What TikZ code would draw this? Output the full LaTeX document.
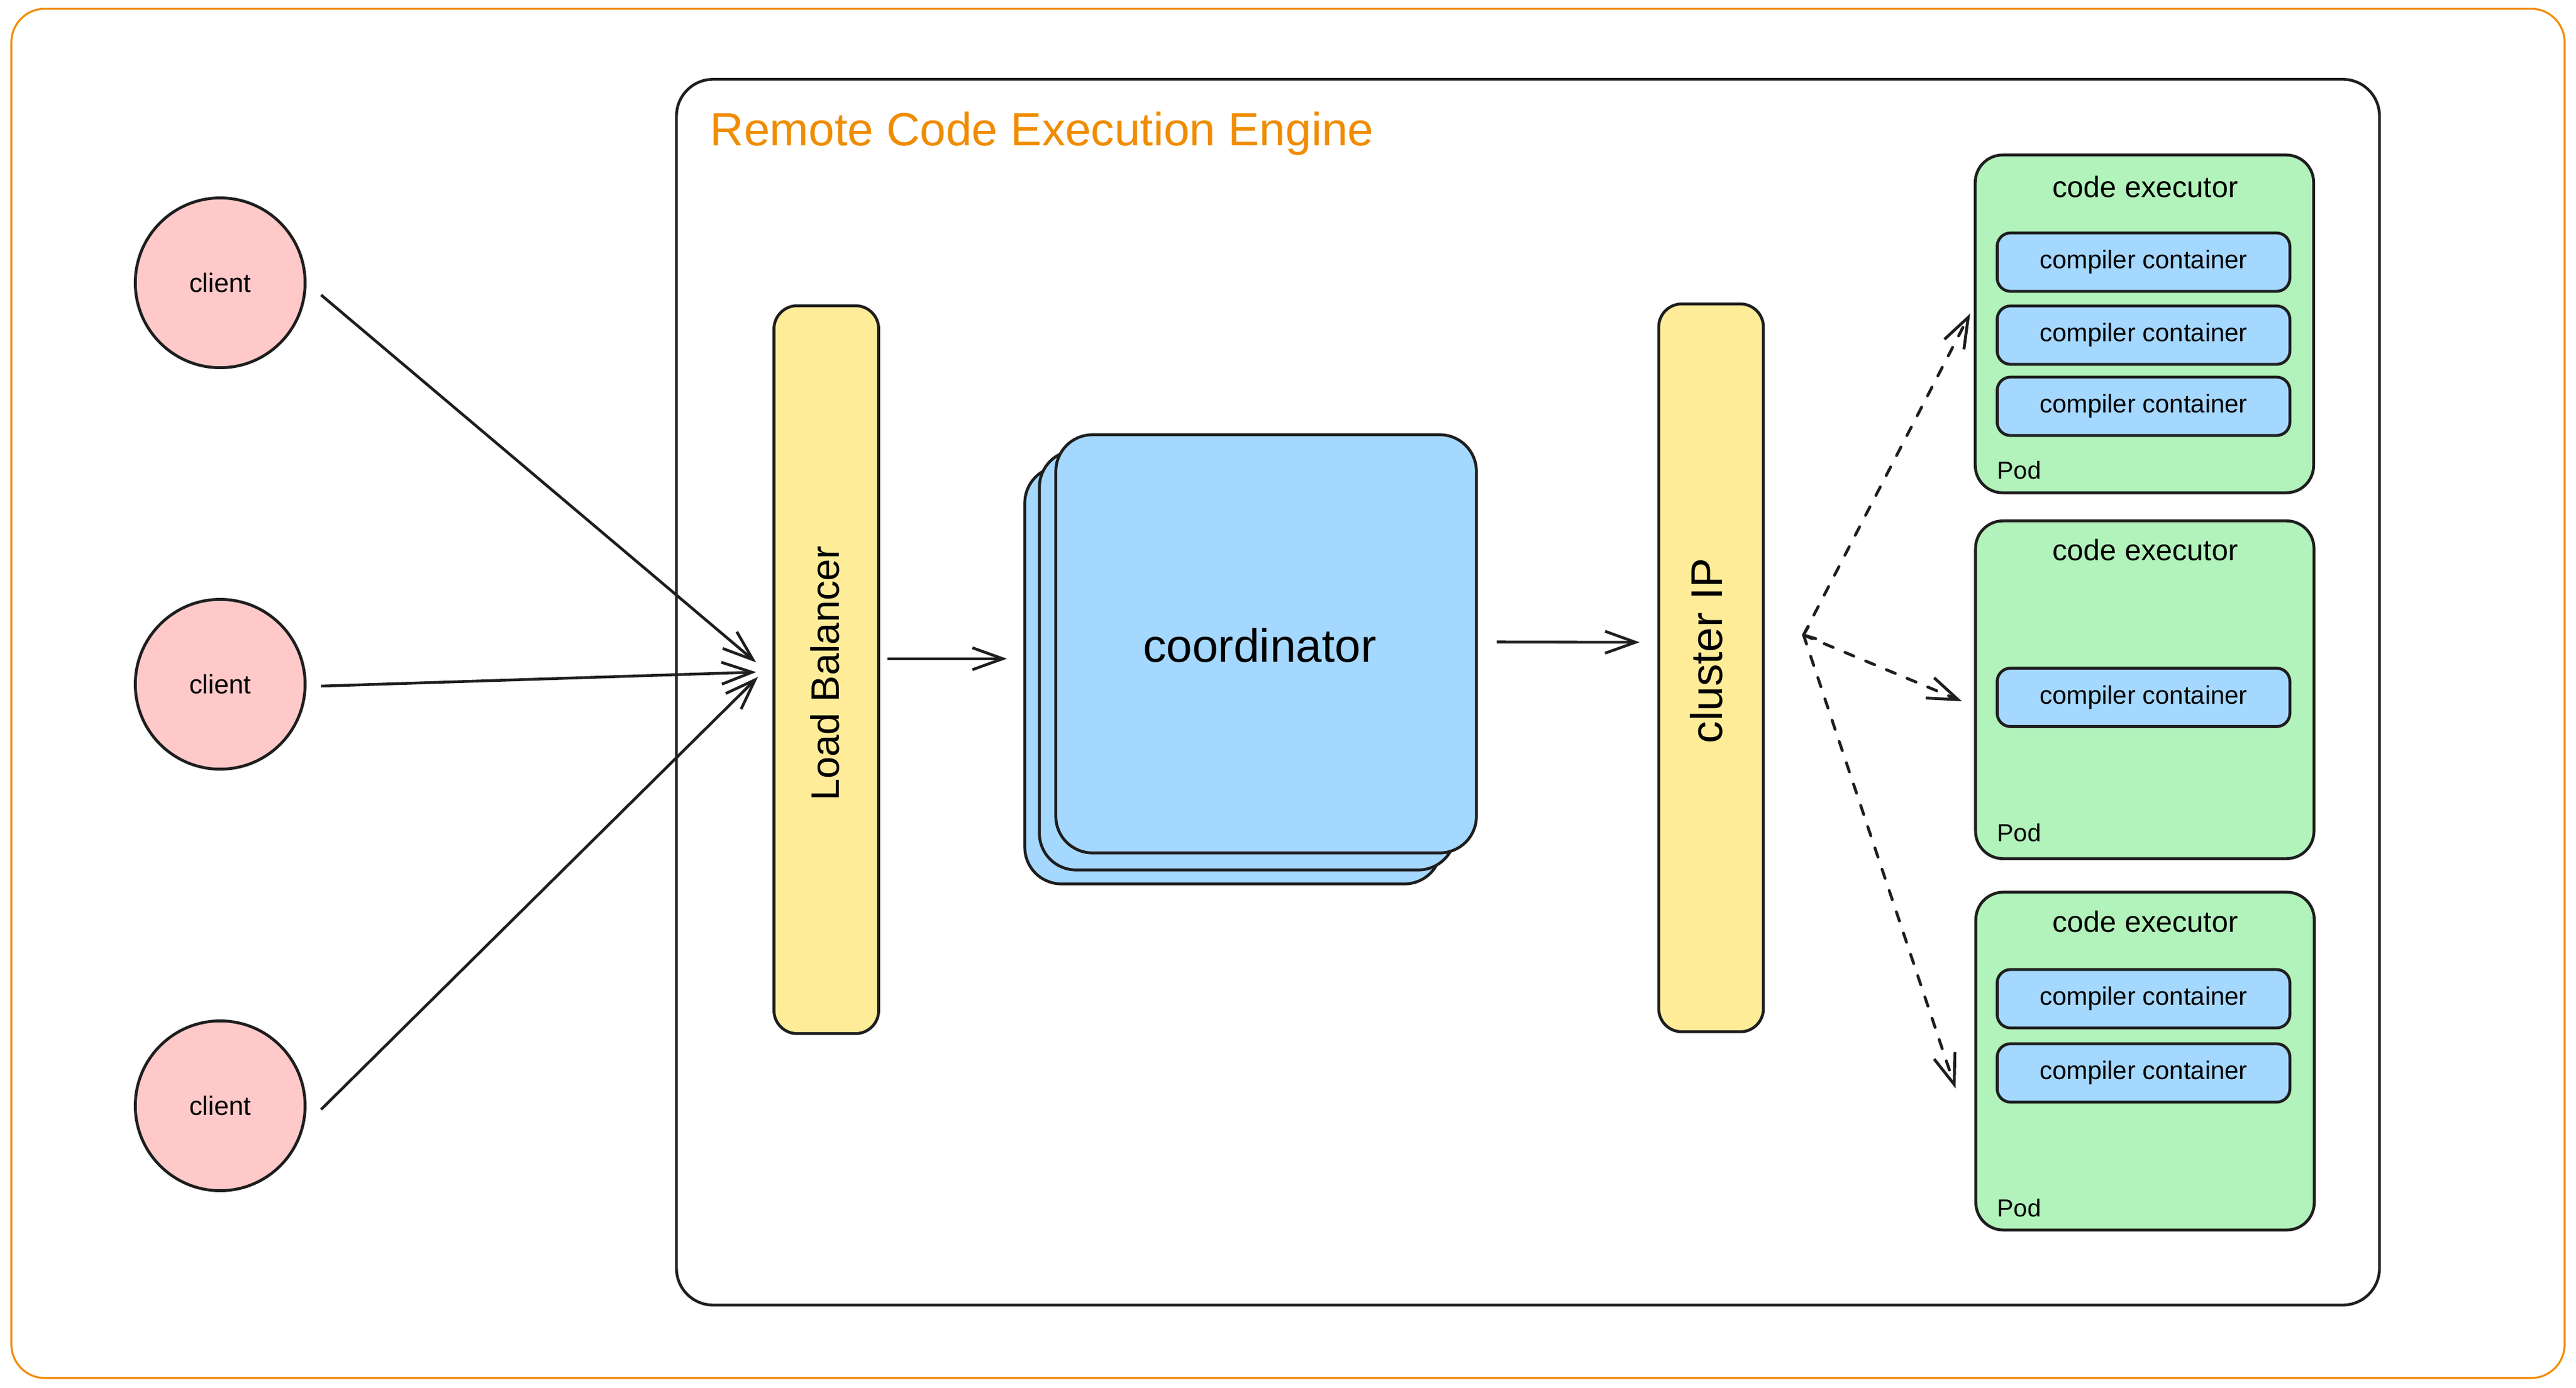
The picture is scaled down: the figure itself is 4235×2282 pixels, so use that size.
\documentclass[tikz,border=0pt]{standalone}
\usepackage{fontspec}
\setmainfont{Liberation Sans}
\usetikzlibrary{arrows.meta,calc}
\definecolor{ink}{HTML}{1E1E1E}
\definecolor{frameor}{HTML}{F08C00}
\definecolor{pinkf}{HTML}{FFC9C9}
\definecolor{yellowf}{HTML}{FFEC99}
\definecolor{bluef}{HTML}{A5D8FF}
\definecolor{greenf}{HTML}{B2F2BB}
\begin{document}
\begin{tikzpicture}[x=0.01cm,y=-0.01cm,
  outerframe/.style={draw=frameor,line width=0.9pt,rounded corners=0.55cm,rectangle,inner sep=0pt,minimum width=41.95cm,minimum height=22.5cm},
  engine/.style={draw=ink,line width=1.3pt,rounded corners=0.6cm,rectangle,inner sep=0pt,minimum width=27.98cm,minimum height=20.14cm},
  client/.style={circle,draw=ink,fill=pinkf,line width=1.35pt,minimum size=2.79cm,inner sep=0pt,font=\fontsize{12.4}{14}\selectfont},
  bar/.style={rectangle,draw=ink,fill=yellowf,line width=1.35pt,rounded corners=0.38cm,inner sep=0pt,minimum width=1.72cm,minimum height=11.96cm},
  card/.style={rectangle,draw=ink,fill=bluef,line width=1.35pt,rounded corners=0.6cm,inner sep=0pt},
  pod/.style={rectangle,draw=ink,fill=greenf,line width=1.35pt,rounded corners=0.45cm,inner sep=0pt,minimum width=5.56cm,minimum height=5.55cm},
  cont/.style={rectangle,draw=ink,fill=bluef,line width=1.35pt,rounded corners=0.22cm,inner sep=0pt,minimum width=4.81cm,minimum height=0.96cm,font=\fontsize{11.9}{14}\selectfont},
  podtitle/.style={font=\fontsize{13.8}{16}\selectfont,inner sep=0pt},
  podlabel/.style={font=\fontsize{11.5}{14}\selectfont,anchor=west,inner sep=0pt},
  vlabel/.style={rotate=90,inner sep=0pt},
  arr/.style={draw=ink,line width=1.3pt,-{Straight Barb[length=0.5cm,width=0.36cm]}},
  darr/.style={draw=ink,line width=1.35pt,line cap=round,dash pattern=on 4.5pt off 6pt,-{Straight Barb[length=0.5cm,width=0.36cm]}}
]
\useasboundingbox (0,0) rectangle (4235,2282);
\fill[white] (0,0) rectangle (4235,2282);

% frames
\node[outerframe] (outer) at (2117.5,1140) {};
\node[engine] (engine) at (2512,1138) {};
\node[anchor=base west,text=frameor,font=\fontsize{21.8}{26}\selectfont,inner sep=0pt] (title) at (1167,240) {Remote Code Execution Engine};

% clients
\node[client] (c1) at (362,465) {client};
\node[client] (c2) at (362,1125) {client};
\node[client] (c3) at (362,1818) {client};

% load balancer
\node[bar] (lb) at (1358.5,1101) {};
\node[vlabel,font=\fontsize{18.5}{22}\selectfont] (lbt) at (1356,1107) {Load Balancer};

% coordinator stack
\node[card,minimum width=6.84cm,minimum height=6.86cm] (cback) at (2027,1110) {};
\node[card,minimum width=6.83cm,minimum height=6.89cm] (cmid) at (2050.5,1085.5) {};
\node[card,minimum width=6.91cm,minimum height=6.87cm] (cfront) at (2081.5,1058.5) {};
\node[font=\fontsize{21.8}{26}\selectfont,inner sep=0pt] (coordt) at (2071,1061) {coordinator};

% cluster IP
\node[bar] (cip) at (2813,1098) {};
\node[vlabel,font=\fontsize{20.8}{24}\selectfont] (cipt) at (2805,1070) {cluster IP};

% pods
\node[pod] (pod1) at (3525.5,532.5) {};
\node[podtitle] (pod1t) at (3527,307) {code executor};
\node[cont] (k11) at (3524,431) {compiler container};
\node[cont] (k12) at (3524,551) {compiler container};
\node[cont] (k13) at (3524,668) {compiler container};
\node[podlabel] (pod1l) at (3283,773) {Pod};

\node[pod] (pod2) at (3526,1134) {};
\node[podtitle] (pod2t) at (3527,904) {code executor};
\node[cont] (k21) at (3524,1146.5) {compiler container};
\node[podlabel] (pod2l) at (3283,1369) {Pod};

\node[pod] (pod3) at (3526.5,1744.5) {};
\node[podtitle] (pod3t) at (3527,1515) {code executor};
\node[cont] (k31) at (3524,1642) {compiler container};
\node[cont] (k32) at (3524,1764) {compiler container};
\node[podlabel] (pod3l) at (3283,1986) {Pod};

% connectors
\draw[arr] ($(c1.east)+(24,20)$) -- ($(lb.west)+(-27,-12)$);
\draw[arr] ($(c2.east)+(24,3)$) -- ($(lb.west)+(-27,4)$);
\draw[arr] ($(c3.east)+(24,6)$) -- ($(lb.west)+(-24,12)$);
\draw[arr] ($(lb.east)+(12,-18)$) -- ($(cback.west)+(-27,-27)$);
\draw[arr] ($(cfront.east)+(31,-3)$) -- ($(cip.west)+(-29,-42)$);

\coordinate (hub) at (2965,1044);
\draw[darr] (hub) -- ($(pod1.west)+(-6,-17)$);
\draw[darr] (hub) -- ($(pod2.west)+(-20,19)$);
\draw[darr] (hub) -- ($(pod3.west)+(-31,45)$);
\draw[draw=ink,line width=1.35pt,line cap=round,line join=round] ($(hub)+(8,-14)$) -- (hub) -- ($(hub)+(20,6)$);
\end{tikzpicture}
\end{document}
